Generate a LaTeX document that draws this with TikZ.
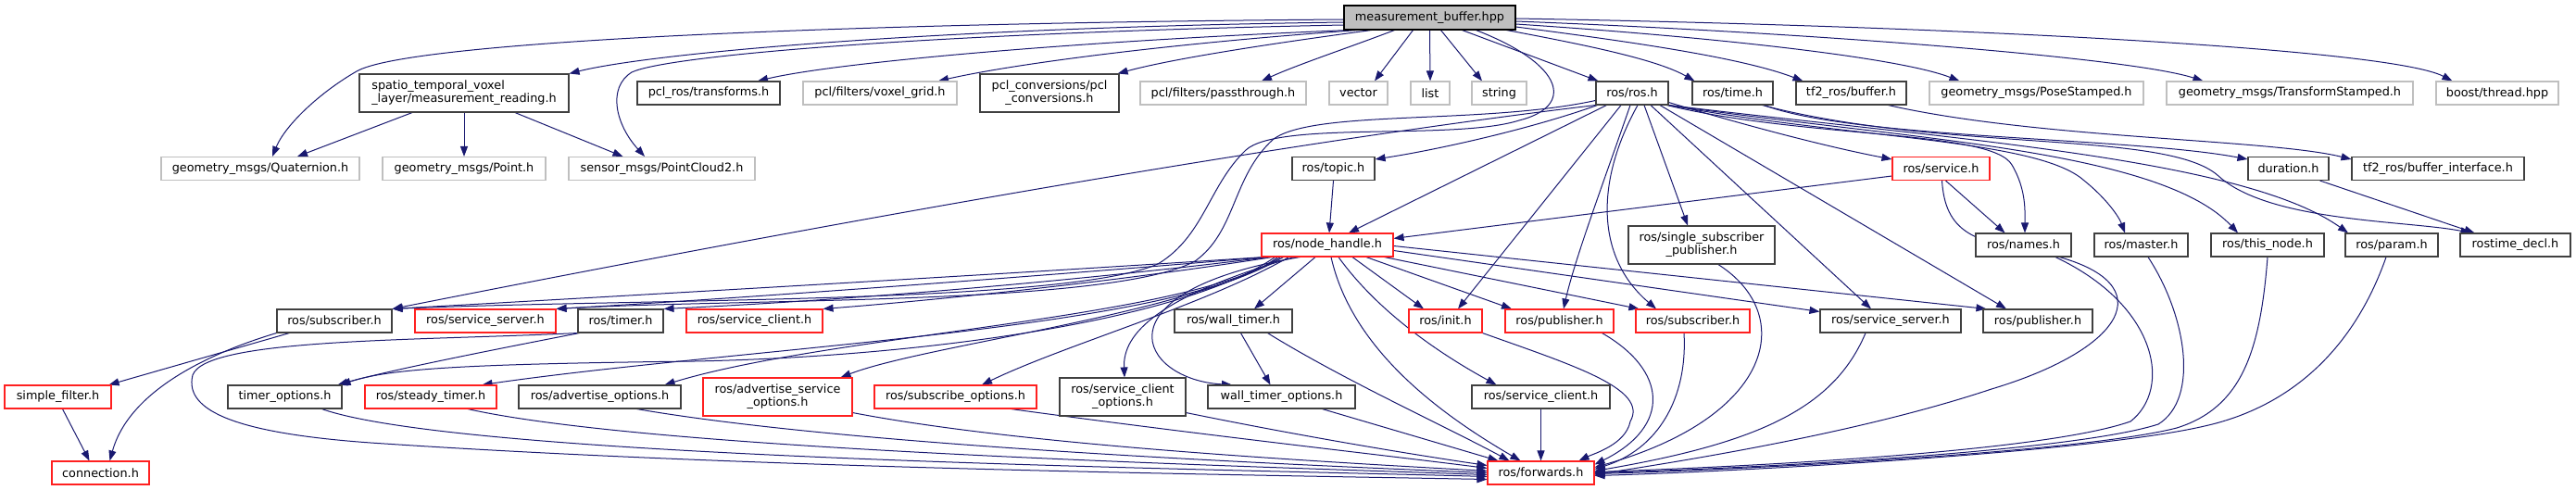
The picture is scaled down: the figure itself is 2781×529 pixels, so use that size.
\documentclass[tikz,border=0pt]{standalone}
\usepackage{fontspec}
\setmainfont{DejaVu Sans}
\usetikzlibrary{arrows.meta}
\definecolor{edgec}{HTML}{191970}
\definecolor{gryc}{HTML}{BFBFBF}
\definecolor{blkc}{HTML}{404040}
\definecolor{redc}{HTML}{FF2020}
\newcommand\dfont{\fontsize{12.8}{14}\selectfont}
\pgfdeclarelayer{bg}
\pgfsetlayers{bg,main}
\begin{document}
\begin{tikzpicture}[x=1pt,y=-1pt,
  base/.style={rectangle, line width=1.1pt, fill=white, minimum height=25pt, inner xsep=1pt, inner ysep=0pt, font=\dfont, text=black},
  nblk/.style={base, draw=blkc},
  ngry/.style={base, draw=gryc},
  nred/.style={base, draw=redc},
  nroot/.style={base, draw=black, fill=gryc},
  two/.style={minimum height=41pt, align=center},
  e/.style={draw=edgec, line width=1pt, -{Triangle[length=11pt,width=8pt]}}]
\begin{pgfonlayer}{bg}
\fill[white] (0,0) rectangle (2781,529);
\end{pgfonlayer}
\useasboundingbox (0,0) rectangle (2781,529);
% row 1
\node[nroot, minimum width=185pt, minimum height=26pt] (mb) at (1543.5,19) {measurement\_buffer.hpp};
% row 2
\node[nblk, two, align=left, minimum width=226pt] (spatio) at (501,100.5) {spatio\_temporal\_voxel\\\_layer/measurement\_reading.h};
\node[nblk, minimum width=154pt] (pcltr) at (765,100.5) {pcl\_ros/transforms.h};
\node[ngry, minimum width=166pt] (voxel) at (950,100.5) {pcl/filters/voxel\_grid.h};
\node[nblk, two, minimum width=150pt] (pclconv) at (1133,100.5) {pcl\_conversions/pcl\\\_conversions.h};
\node[ngry, minimum width=179pt] (pass) at (1320.5,100.5) {pcl/filters/passthrough.h};
\node[ngry, minimum width=63pt] (vector) at (1466.5,100.5) {vector};
\node[ngry, minimum width=42pt] (list) at (1544,100.5) {list};
\node[ngry, minimum width=59pt] (string) at (1618.5,100.5) {string};
\node[nblk, minimum width=78pt] (rosh) at (1762,100.5) {ros/ros.h};
\node[nblk, minimum width=87pt] (time) at (1870.5,100.5) {ros/time.h};
\node[nblk, minimum width=119pt] (tfbuf) at (1998.5,100.5) {tf2\_ros/buffer.h};
\node[ngry, minimum width=231pt] (pose) at (2198.5,100.5) {geometry\_msgs/PoseStamped.h};
\node[ngry, minimum width=266pt] (tfst) at (2472,100.5) {geometry\_msgs/TransformStamped.h};
\node[ngry, minimum width=132pt] (boost) at (2696,100.5) {boost/thread.hpp};
% row 3
\node[ngry, minimum width=214pt] (quat) at (281,182) {geometry\_msgs/Quaternion.h};
\node[ngry, minimum width=176pt] (point) at (501,182) {geometry\_msgs/Point.h};
\node[ngry, minimum width=201pt] (pc2) at (714.5,182) {sensor\_msgs/PointCloud2.h};
\node[nblk, minimum width=89pt] (topic) at (1439.5,182) {ros/topic.h};
\node[nred, minimum width=105pt] (service) at (2095.5,182) {ros/service.h};
\node[nblk, minimum width=87pt] (duration) at (2470.5,182) {duration.h};
\node[nblk, minimum width=186pt] (tfbi) at (2632,182) {tf2\_ros/buffer\_interface.h};
% row 4
\node[nred, minimum width=142pt] (nh) at (1433,264.5) {ros/node\_handle.h};
\node[nblk, two, minimum width=158pt] (ssp) at (1837,264.5) {ros/single\_subscriber\\\_publisher.h};
\node[nblk, minimum width=103pt] (names) at (2184.5,264.5) {ros/names.h};
\node[nblk, minimum width=101pt] (master) at (2311.5,264.5) {ros/master.h};
\node[nblk, minimum width=122pt] (thisnode) at (2448,264.5) {ros/this\_node.h};
\node[nblk, minimum width=100pt] (param) at (2582,264.5) {ros/param.h};
\node[nblk, minimum width=119pt] (rtdecl) at (2715.5,264.5) {rostime\_decl.h};
% row 5
\node[nblk, minimum width=124pt] (subB) at (361,346.5) {ros/subscriber.h};
\node[nred, minimum width=152pt] (ssR) at (524,346.5) {ros/service\_server.h};
\node[nblk, minimum width=92pt] (timer) at (670,346.5) {ros/timer.h};
\node[nred, minimum width=147pt] (scR) at (814.5,346.5) {ros/service\_client.h};
\node[nblk, minimum width=127pt] (wtimer) at (1331.5,346.5) {ros/wall\_timer.h};
\node[nred, minimum width=79pt] (init) at (1560.5,346.5) {ros/init.h};
\node[nred, minimum width=117pt] (pubR) at (1683.5,346.5) {ros/publisher.h};
\node[nred, minimum width=123pt] (subR) at (1827.5,346.5) {ros/subscriber.h};
\node[nblk, minimum width=152pt] (ssB) at (2041,346.5) {ros/service\_server.h};
\node[nblk, minimum width=118pt] (pubB) at (2200,346.5) {ros/publisher.h};
% row 6
\node[nred, minimum width=115pt] (sfilter) at (62.5,428.5) {simple\_filter.h};
\node[nblk, minimum width=123pt] (topts) at (307.5,428.5) {timer\_options.h};
\node[nred, minimum width=142pt] (steady) at (465,428.5) {ros/steady\_timer.h};
\node[nblk, minimum width=175pt] (advo) at (647.5,428.5) {ros/advertise\_options.h};
\node[nred, two, minimum width=161pt] (advso) at (839.5,428.5) {ros/advertise\_service\\\_options.h};
\node[nred, minimum width=175pt] (subo) at (1031.5,428.5) {ros/subscribe\_options.h};
\node[nblk, two, minimum width=136pt] (sco) at (1212,428.5) {ros/service\_client\\\_options.h};
\node[nblk, minimum width=159pt] (wto) at (1383.5,428.5) {wall\_timer\_options.h};
\node[nblk, minimum width=149pt] (scB) at (1663.5,428.5) {ros/service\_client.h};
% row 7
\node[nred, minimum width=105pt] (conn) at (108.5,510.5) {connection.h};
\node[nred, minimum width=115pt] (fw) at (1663.5,510.5) {ros/forwards.h};

\begin{pgfonlayer}{bg}
% from measurement_buffer.hpp
\draw[e] ([yshift=-2pt]mb.west) .. controls (900,25) and (440,45) .. (385,77) .. controls (345,100) and (308,135) .. ([xshift=13pt]quat.north);
\draw[e] ([yshift=-5pt]mb.west) .. controls (1000,30) and (700,58) .. (spatio.north east);
\draw[e] ([yshift=-8pt]mb.west) .. controls (1000,36) and (720,60) .. (682,78) .. controls (655,95) and (665,135) .. ([xshift=-18.5pt]pc2.north);
\draw[e] ([xshift=5pt]mb.south west) .. controls (1150,45) and (900,68) .. ([xshift=53pt]pcltr.north);
\draw[e] ([xshift=15pt]mb.south west) .. controls (1250,48) and (1090,70) .. ([xshift=63pt]voxel.north);
\draw[e] ([xshift=30pt]mb.south west) .. controls (1350,50) and (1260,65) .. ([xshift=-2pt]pclconv.north east);
\draw[e] ([xshift=55pt]mb.south west) .. controls (1460,50) and (1400,70) .. ([xshift=41.5pt]pass.north);
\draw[e] ([xshift=75pt]mb.south west) -- ([xshift=17.5pt]vector.north);
\draw[e] (mb.south) -- (list.north);
\draw[e] ([xshift=12pt]mb.south) -- ([xshift=-18.5pt]string.north);
\draw[e] ([xshift=35pt]mb.south) -- ([xshift=3pt]rosh.north west);
\draw[e] ([xshift=-10pt]mb.south east) .. controls (1720,50) and (1790,65) .. ([xshift=3pt]time.north west);
\draw[e] ([yshift=-10pt]mb.east) .. controls (1760,45) and (1880,62) .. ([xshift=8pt]tfbuf.north west);
\draw[e] ([yshift=-7pt]mb.east) .. controls (1850,40) and (2050,62) .. ([xshift=33pt]pose.north west);
\draw[e] ([yshift=-4pt]mb.east) .. controls (1950,35) and (2300,62) .. ([xshift=40pt]tfst.north west);
\draw[e] ([yshift=-1pt]mb.east) .. controls (2100,28) and (2580,52) .. ([xshift=18pt]boost.north west);
\draw[e] ([xshift=50pt]mb.south) .. controls (1690,70) and (1700,115) .. (1640,130) .. controls (1570,152) and (1380,130) .. (1345,162) .. controls (1305,200) and (1300,255) .. (1250,285) .. controls (1150,328) and (700,322) .. (subB.north east);
% from ros/ros.h
\draw[e] ([xshift=2pt]rosh.south west) .. controls (1650,140) and (1550,162) .. ([yshift=-3pt]topic.north east);
\draw[e] ([xshift=12pt]rosh.south west) -- ([xshift=23pt]nh.north);
\draw[e] (rosh.south west) .. controls (1500,140) and (1100,200) .. (subB.north east);
\draw[e] ([yshift=-8pt]rosh.west) .. controls (1600,135) and (1420,118) .. (1375,150) .. controls (1330,190) and (1335,250) .. (1290,282) .. controls (1200,330) and (800,322) .. (ssR.north east);
\draw[e] ([yshift=3pt]rosh.south east) .. controls (1900,140) and (1980,160) .. ([yshift=-3pt]service.north west);
\draw[e] ([xshift=13pt]rosh.south) -- ([xshift=-15pt]ssp.north);
\draw[e] ([xshift=-2pt]rosh.south east) .. controls (1950,150) and (2150,140) .. (2172,178) .. controls (2188,205) and (2186,230) .. ([xshift=1.5pt]names.north);
\draw[e] (rosh.south east) .. controls (2000,150) and (2200,150) .. (2250,195) .. controls (2275,215) and (2288,235) .. ([xshift=-17.5pt]master.north);
\draw[e] (rosh.south east) .. controls (2050,150) and (2330,160) .. ([xshift=-32pt]thisnode.north);
\draw[e] (rosh.south east) .. controls (2100,150) and (2420,170) .. ([xshift=-47pt]param.north);
\draw[e] ([xshift=-12pt]rosh.south) -- ([xshift=13.5pt]init.north);
\draw[e] ([xshift=-2pt]rosh.south) .. controls (1730,200) and (1700,280) .. ([xshift=4.5pt]pubR.north);
\draw[e] ([xshift=6pt]rosh.south) .. controls (1720,200) and (1725,280) .. ([xshift=-39.5pt]subR.north);
\draw[e] ([xshift=20pt]rosh.south) -- ([xshift=-21pt]ssB.north);
\draw[e] ([xshift=30pt]rosh.south) -- ([xshift=-34pt]pubB.north);
% time, tf2 buffer, duration
\draw[e] ([xshift=-10pt]time.south east) .. controls (2000,150) and (2300,148) .. ([yshift=-3pt]duration.north west);
\draw[e] ([xshift=-12pt]time.south east) .. controls (2100,165) and (2340,140) .. (2395,190) .. controls (2450,240) and (2600,238) .. ([xshift=-48pt]rtdecl.north);
\draw[e] ([xshift=-20pt]tfbuf.south east) .. controls (2200,150) and (2450,150) .. ([yshift=-3pt]tfbi.north west);
\draw[e] ([xshift=-10pt]duration.south east) -- ([xshift=-44pt]rtdecl.north);
% measurement_reading
\draw[e] ([xshift=-56pt]spatio.south) -- ([xshift=40pt]quat.north);
\draw[e] (spatio.south) -- (point.north);
\draw[e] ([xshift=55pt]spatio.south) -- ([xshift=-42pt]pc2.north);
% topic, service
\draw[e] (topic.south) -- ([xshift=2pt]nh.north);
\draw[e] ([yshift=-8pt]service.west) -- ([yshift=-6pt]nh.north east);
\draw[e] ([xshift=5pt]service.south) -- ([xshift=-20pt]names.north);
\draw[e] ([xshift=1pt]service.south) .. controls (2100,250) and (2130,262) .. (2200,272) .. controls (2340,300) and (2300,375) .. (2150,420) .. controls (2000,470) and (1800,500) .. ([yshift=-2pt]fw.east);
% into forwards from the right
\draw[e] ([xshift=18pt]ssp.south) .. controls (1940,340) and (1915,450) .. ([yshift=6pt]fw.east);
\draw[e] ([xshift=34.5pt]names.south) .. controls (2330,330) and (2345,420) .. (2300,455) .. controls (2200,490) and (1850,505) .. ([yshift=1pt]fw.east);
\draw[e] ([xshift=7.5pt]master.south) .. controls (2360,340) and (2375,430) .. (2330,458) .. controls (2230,490) and (1850,507) .. (fw.east);
\draw[e] (thisnode.south) .. controls (2440,380) and (2420,440) .. (2350,462) .. controls (2240,490) and (1850,508) .. ([yshift=-1pt]fw.east);
\draw[e] ([xshift=-6pt]param.south) .. controls (2540,380) and (2470,440) .. (2380,460) .. controls (2250,490) and (1850,510) .. ([yshift=-3pt]fw.east);
\draw[e] ([xshift=-9.5pt]subR.south) .. controls (1822,430) and (1790,485) .. ([yshift=4pt]fw.east);
\draw[e] ([xshift=-27pt]ssB.south) .. controls (1980,440) and (1900,478) .. ([yshift=2pt]fw.east);
\draw[e] ([xshift=46pt]pubR.south) .. controls (1800,400) and (1805,460) .. ([yshift=9pt]fw.east);
\draw[e] (init.south east) .. controls (1700,395) and (1780,420) .. (1760,455) .. controls (1755,480) and (1720,490) .. ([xshift=-17pt]fw.north east);
\draw[e] (scB.south) -- (fw.north);
% node_handle
\draw[e] ([xshift=4pt]nh.south) .. controls (1460,380) and (1560,450) .. ([xshift=-22pt]fw.north);
\draw[e] ([xshift=12pt]nh.south) .. controls (1490,340) and (1560,385) .. ([xshift=-48pt]scB.north);
\draw[e] ([xshift=3pt]nh.south west) .. controls (1100,295) and (700,318) .. (subB.north east);
\draw[e] ([xshift=6pt]nh.south west) .. controls (1100,300) and (800,322) .. (ssR.north east);
\draw[e] ([xshift=9pt]nh.south west) .. controls (1150,305) and (900,325) .. (timer.north east);
\draw[e] ([xshift=12pt]nh.south west) .. controls (1200,305) and (1000,325) .. (scR.north east);
\draw[e] ([xshift=15pt]nh.south west) .. controls (1280,345) and (1000,385) .. (750,390) .. controls (500,393) and (420,398) .. ([xshift=-2pt]topts.north east);
\draw[e] ([xshift=18pt]nh.south west) .. controls (1280,355) and (800,375) .. ([xshift=-16pt]steady.north east);
\draw[e] ([xshift=21pt]nh.south west) .. controls (1280,345) and (900,360) .. ([xshift=-18pt]advo.north east);
\draw[e] ([xshift=24pt]nh.south west) .. controls (1280,340) and (1000,372) .. ([xshift=-13pt]advso.north east);
\draw[e] ([xshift=30pt]nh.south west) .. controls (1300,330) and (1150,372) .. ([xshift=28.5pt]subo.north);
\draw[e] ([xshift=36pt]nh.south west) .. controls (1250,320) and (1212,360) .. ([xshift=2pt]sco.north);
\draw[e] ([xshift=42pt]nh.south west) .. controls (1180,315) and (1230,410) .. ([xshift=-53.5pt]wto.north);
\draw[e] ([xshift=-13pt]nh.south) -- ([xshift=22.5pt]wtimer.north);
\draw[e] ([xshift=27pt]nh.south) -- ([xshift=-23.5pt]init.north);
\draw[e] ([xshift=42pt]nh.south) -- ([xshift=-51.5pt]pubR.north);
\draw[e] ([xshift=-10pt]nh.south east) -- ([xshift=4pt]subR.north west);
\draw[e] ([yshift=-6pt]nh.east) -- ([yshift=-3pt]ssB.north west);
\draw[e] ([yshift=-1pt]nh.east) -- ([xshift=4pt]pubB.north west);
% lower rows into forwards
\draw[e] ([xshift=37pt]wtimer.south) .. controls (1450,410) and (1560,460) .. ([xshift=-34pt]fw.north);
\draw[e] ([xshift=8pt]wtimer.south) -- ([xshift=-12pt]wto.north);
\draw[e] ([xshift=44pt]wto.south) -- ([xshift=12pt]fw.north west);
\draw[e] ([yshift=4pt]sco.south east) .. controls (1400,470) and (1520,490) .. ([yshift=8pt]fw.west);
\draw[e] ([xshift=60pt]subo.south) .. controls (1300,470) and (1500,492) .. ([yshift=5pt]fw.west);
\draw[e] ([yshift=4pt]advso.south east) .. controls (1100,480) and (1400,497) .. ([yshift=2pt]fw.west);
\draw[e] ([xshift=40pt]advo.south) .. controls (900,478) and (1300,498) .. (fw.west);
\draw[e] ([xshift=40pt]steady.south) .. controls (700,485) and (1300,502) .. ([yshift=-2pt]fw.west);
\draw[e] ([xshift=40pt]topts.south) .. controls (500,495) and (1300,506) .. ([yshift=-4pt]fw.west);
\draw[e] (timer.south west) .. controls (450,368) and (222,365) .. (208,405) .. controls (198,445) and (260,468) .. (400,478) .. controls (800,505) and (1300,512) .. ([yshift=-7pt]fw.west);
\draw[e] ([xshift=2pt]timer.south west) .. controls (520,380) and (420,400) .. ([xshift=-5pt]topts.north east);
% subscriber, simple_filter
\draw[e] ([xshift=14pt]subB.south west) -- ([xshift=-3pt]sfilter.north east);
\draw[e] (subB.south west) .. controls (230,380) and (140,420) .. ([xshift=10pt]conn.north);
\draw[e] ([xshift=5pt]sfilter.south) -- ([xshift=-12pt]conn.north);
\end{pgfonlayer}
\end{tikzpicture}
\end{document}
